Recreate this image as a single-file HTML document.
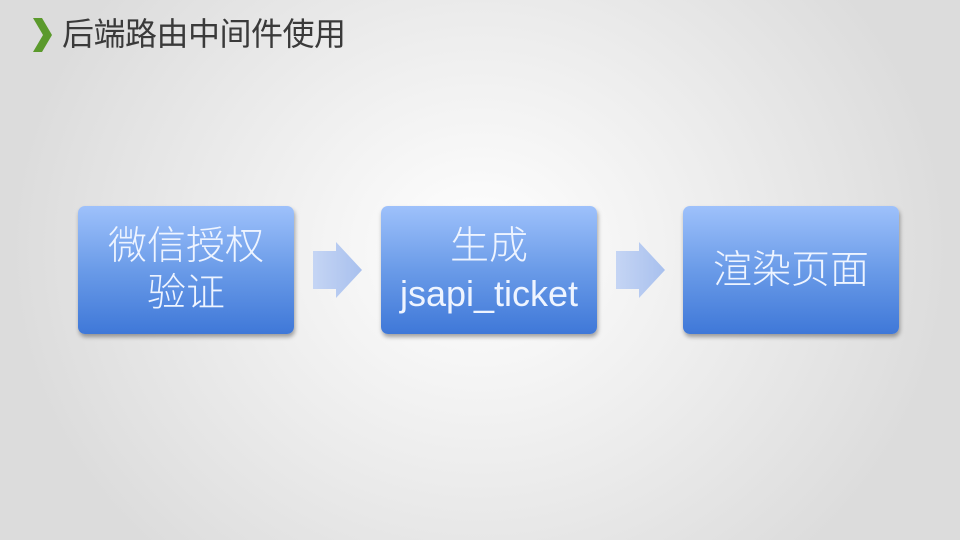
<!DOCTYPE html>
<html><head><meta charset="utf-8"><style>
body{margin:0;width:960px;height:540px;overflow:hidden;position:relative;font-family:"Liberation Sans","Noto Sans CJK SC",sans-serif;
background:radial-gradient(ellipse 470px 420px at 480px 250px,#ffffff 0%,#ececec 55%,#dcdcdc 100%);}
.t{position:absolute;left:62px;top:13px;font-size:32px;color:#3a3a3a;line-height:42px;letter-spacing:-0.5px}
.b{position:absolute;top:206px;width:216px;height:128px;border-radius:7px;
background:linear-gradient(#9ec1fb,#6a9be8 50%,#3f78d8);box-shadow:1px 3px 4px rgba(0,0,0,.35);
color:#eef4ff;font-size:39px;font-weight:300;text-align:center;display:flex;flex-direction:column;justify-content:center;line-height:47px;}
svg{position:absolute}
</style></head><body>
<svg style="left:30px;top:16px" width="24" height="38"><polygon points="3,2 12,2 22,19 12,36 3,36 13,19" fill="#5b9a2c"/></svg>
<div class="t">后端路由中间件使用</div>
<div class="b" style="left:78px">微信授权<br>验证</div>
<div class="b" style="left:381px"><span>生成</span><span style="font-family:'Liberation Sans',sans-serif;font-size:36px">jsapi_ticket</span></div>
<div class="b" style="left:683px">渲染页面</div>
<svg style="left:313px;top:242px" width="50" height="56"><defs><linearGradient id="g" x1="0" x2="1"><stop offset="0" stop-color="#c5d5f4"/><stop offset="1" stop-color="#a8c0ee"/></linearGradient></defs><polygon points="0,9 23,9 23,0 49,28 23,56 23,47 0,47" fill="url(#g)"/></svg>
<svg style="left:616px;top:242px" width="50" height="56"><polygon points="0,9 23,9 23,0 49,28 23,56 23,47 0,47" fill="url(#g)"/></svg>
</body></html>
